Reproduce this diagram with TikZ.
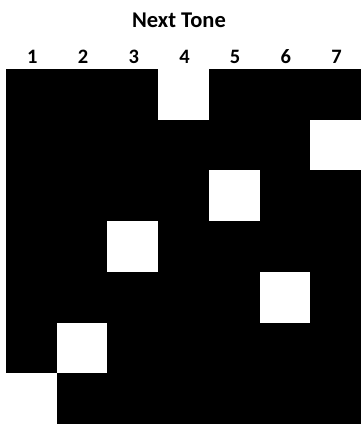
\documentclass[tikz,border=0pt]{standalone}
\usepackage{fontspec}
\setmainfont{Carlito}
\usepackage{tikz}
\usetikzlibrary{positioning}
\definecolor{Ink}{HTML}{000000}
\definecolor{Paper}{HTML}{FFFFFF}
\tikzset{
  every node/.append style={text=Ink},
  head/.style={font=\fontsize{22.5}{26}\selectfont\bfseries, inner sep=0pt},
  colnum/.style={font=\fontsize{20.5}{24}\selectfont\bfseries, inner sep=0pt},
  tonecell/.style={fill=Paper, draw=none},
}
\begin{document}
\begin{tikzpicture}[x=1pt, y=-1pt]
  \useasboundingbox[fill=Paper] (0,0) rectangle (361,428);
  \node[head] (title) at (179,20) {Next Tone};
  \foreach \c in {1,...,7}
    \node[colnum] (c\c) at ({6+50.7*(\c-0.5)+1},57) {\c};
  % black field, then the white cell of each row
  \fill[Ink] (6,69) rectangle (361,424);
  \foreach \r/\c in {1/4,2/7,3/5,4/3,5/6,6/2,7/1}
    \fill[tonecell] ({6+50.7*(\c-1)},{69+50.7*(\r-1)}) rectangle ++(50.7,50.7);
\end{tikzpicture}
\end{document}
